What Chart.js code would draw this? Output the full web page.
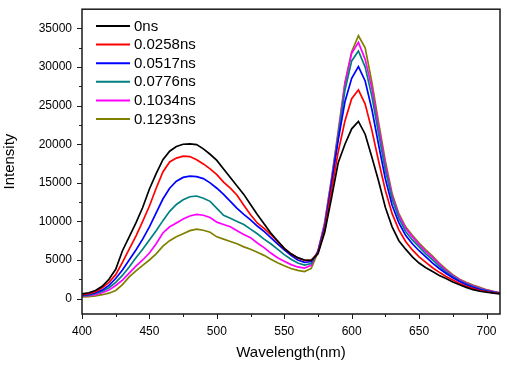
<!DOCTYPE html>
<html>
<head>
<meta charset="utf-8">
<script src="https://cdn.jsdelivr.net/npm/chart.js@4.4.1/dist/chart.umd.min.js"></script>
<style>
    html, body { margin: 0; padding: 0; background: #fff; }
    #chart { display: block; }
</style>
</head>
<body>
<canvas id="chart" width="507" height="366"></canvas>
<script>
// Wavelength sampling (nm)
const wavelengths = [400, 405, 410, 415, 420, 425, 430, 435, 440, 445, 450, 455, 460, 465, 470, 475, 480, 485, 490, 495,
    500, 505, 510, 515, 520, 525, 530, 535, 540, 545, 550, 555, 560, 565, 570, 575, 580, 585, 590, 595,
    600, 605, 610, 615, 620, 625, 630, 635, 640, 645, 650, 655, 660, 665, 670, 675, 680, 685, 690, 695,
    700, 705, 710];

const seriesLabels = ['0ns', '0.0258ns', '0.0517ns', '0.0776ns', '0.1034ns', '0.1293ns'];
const seriesColors = ['#000000', '#ff0000', '#0000ff', '#008080', '#ff00ff', '#808000'];

const s0ns = [600, 750, 1050, 1600, 2500, 3800, 6200, 8000, 9800, 11800, 14200, 16200, 18000, 19100, 19700, 20000, 20050, 19950, 19400, 18700,
    17900, 16800, 15700, 14600, 13500, 12200, 10900, 9700, 8500, 7500, 6500, 5800, 5300, 5000, 4950, 5800, 8600, 13000, 17600, 20000,
    22000, 22950, 21300, 18300, 15200, 11800, 9300, 7500, 6400, 5400, 4600, 4000, 3500, 3000, 2600, 2150, 1800, 1450, 1150, 950,
    820, 700, 600];

const s0258ns = [500, 650, 900, 1400, 2100, 3100, 4700, 6400, 8100, 10000, 12000, 14300, 16400, 17700, 18200, 18450, 18400, 18000, 17450, 16800,
    16050, 15100, 14300, 13400, 12100, 10850, 9800, 9100, 8300, 7400, 6500, 5800, 5250, 4950, 4950, 5900, 8900, 14000, 19000, 23000,
    25900, 27050, 25200, 21800, 17800, 14000, 11000, 8900, 7400, 6300, 5400, 4700, 4000, 3400, 2850, 2400, 1950, 1600, 1300, 1050,
    880, 750, 640];

const s0517ns = [450, 550, 750, 1100, 1700, 2600, 3700, 5000, 6300, 7700, 9300, 11100, 12900, 14300, 15200, 15700, 15870, 15800, 15550, 15000,
    14300, 13500, 12600, 11700, 10900, 10200, 9400, 8700, 7900, 7100, 6300, 5600, 5000, 4700, 4800, 6000, 9200, 14800, 20500, 25500,
    28550, 30060, 28200, 24500, 19900, 15500, 12100, 9800, 8200, 7100, 6200, 5400, 4600, 3900, 3250, 2700, 2200, 1800, 1450, 1180,
    980, 820, 680];

const s0776ns = [350, 450, 650, 950, 1400, 2100, 3000, 4100, 5300, 6400, 7600, 8800, 10100, 11300, 12200, 12800, 13200, 13290, 13000, 12600,
    11700, 10800, 10400, 10000, 9600, 9000, 8400, 7700, 7100, 6400, 5700, 5100, 4600, 4350, 4550, 6100, 9400, 15000, 21000, 27000,
    30800, 32080, 30000, 26200, 21300, 16600, 12900, 10400, 8700, 7600, 6700, 5800, 5000, 4200, 3450, 2850, 2300, 1900, 1550, 1250,
    1030, 850, 700];

const s1034ns = [300, 380, 500, 750, 1100, 1700, 2400, 3300, 4200, 5000, 5900, 7100, 8500, 9300, 9800, 10300, 10700, 10900, 10800, 10500,
    9900, 9600, 9300, 8800, 8300, 7900, 7200, 6600, 5900, 5300, 4850, 4400, 4100, 3950, 4300, 6200, 9700, 15300, 21300, 27800,
    31800, 33200, 31000, 27200, 22200, 17300, 13300, 10800, 9100, 8000, 7000, 6100, 5300, 4450, 3650, 3000, 2450, 2000, 1650, 1350,
    1100, 900, 730];

const s1293ns = [200, 250, 350, 500, 700, 1050, 1800, 2800, 3600, 4300, 5000, 5800, 6800, 7500, 8000, 8400, 8800, 9000, 8850, 8600,
    8000, 7700, 7400, 7100, 6700, 6400, 6000, 5600, 5100, 4650, 4250, 3900, 3650, 3500, 3900, 6000, 9900, 15500, 21700, 28000,
    32000, 34060, 32500, 28000, 22800, 17800, 13600, 11000, 9300, 8200, 7200, 6300, 5500, 4600, 3800, 3100, 2500, 2100, 1750, 1450,
    1150, 950, 750];

const seriesValues = [s0ns, s0258ns, s0517ns, s0776ns, s1034ns, s1293ns];

// Axis ticks
const xTickValues = [400, 450, 500, 550, 600, 650, 700];
const xMinorValues = [425, 475, 525, 575, 625, 675];
const yTickValues = [0, 5000, 10000, 15000, 20000, 25000, 30000, 35000];
const yMinorValues = [2500, 7500, 12500, 17500, 22500, 27500, 32500];

const FONT = "'Liberation Sans', Arial, sans-serif";

// Frame, outward tick marks and the inset legend
const framePlugin = {
    id: 'frame',
    afterDraw(chart) {
        const { ctx, chartArea: a, scales } = chart;
        ctx.save();
        ctx.strokeStyle = '#1a1a1a';
        ctx.lineWidth = 1.5;
        ctx.strokeRect(a.left, a.top, a.right - a.left, a.bottom - a.top);

        ctx.lineWidth = 1;
        ctx.beginPath();
        const tick = (vals, len, axis) => {
            vals.forEach(v => {
                if (axis === 'x') {
                    const px = Math.round(scales.x.getPixelForValue(v)) + 0.5;
                    ctx.moveTo(px, a.bottom);
                    ctx.lineTo(px, a.bottom + len);
                } else {
                    const py = Math.round(scales.y.getPixelForValue(v)) + 0.5;
                    ctx.moveTo(a.left, py);
                    ctx.lineTo(a.left - len, py);
                }
            });
        };
        tick(xTickValues, 5, 'x');
        tick(xMinorValues, 3, 'x');
        tick(yTickValues, 5, 'y');
        tick(yMinorValues, 3, 'y');
        ctx.stroke();

        // legend
        ctx.font = '15px ' + FONT;
        ctx.textBaseline = 'middle';
        ctx.textAlign = 'left';
        chart.data.datasets.forEach((ds, i) => {
            const y = 26 + i * 18.6;
            ctx.strokeStyle = ds.borderColor;
            ctx.lineWidth = 2;
            ctx.beginPath();
            ctx.moveTo(96, y);
            ctx.lineTo(130, y);
            ctx.stroke();
            ctx.fillStyle = '#000';
            ctx.fillText(ds.label, 134, y + 0.5);
        });
        ctx.restore();
    }
};

const datasets = seriesLabels.map((label, i) => ({
    label,
    data: wavelengths.map((w, j) => ({ x: w, y: seriesValues[i][j] })),
    borderColor: seriesColors[i],
    backgroundColor: seriesColors[i],
    borderWidth: 1.7,
    pointRadius: 0,
    tension: 0,
    fill: false
}));

new Chart(document.getElementById('chart').getContext('2d'), {
    type: 'line',
    data: { datasets },
    options: {
        responsive: false,
        animation: false,
        devicePixelRatio: 1,
        layout: { padding: { top: 7, right: 7, left: 0, bottom: 0 } },
        plugins: {
            legend: { display: false },
            tooltip: { enabled: false }
        },
        scales: {
            x: {
                type: 'linear',
                min: 400,
                max: 710,
                grid: { display: false },
                border: { display: false },
                afterBuildTicks: scale => { scale.ticks = xTickValues.map(v => ({ value: v })); },
                afterFit: scale => { scale.height = 52; },
                ticks: {
                    color: '#000',
                    padding: 2,
                    maxRotation: 0,
                    font: { family: FONT, size: 12 },
                    callback: v => String(v)
                },
                title: {
                    display: true,
                    text: 'Wavelength(nm)',
                    color: '#000',
                    font: { family: FONT, size: 15 },
                    padding: { top: 0, bottom: 4 }
                }
            },
            y: {
                min: -2000,
                max: 37500,
                grid: { display: false },
                border: { display: false },
                afterBuildTicks: scale => { scale.ticks = yTickValues.map(v => ({ value: v })); },
                afterFit: scale => { scale.width = 82; },
                ticks: {
                    color: '#000',
                    padding: 2,
                    font: { family: FONT, size: 12 },
                    callback: v => String(v)
                },
                title: {
                    display: true,
                    text: 'Intensity',
                    color: '#000',
                    font: { family: FONT, size: 15 },
                    padding: { top: 1, bottom: 0 }
                }
            }
        }
    },
    plugins: [framePlugin]
});
</script>
</body>
</html>
